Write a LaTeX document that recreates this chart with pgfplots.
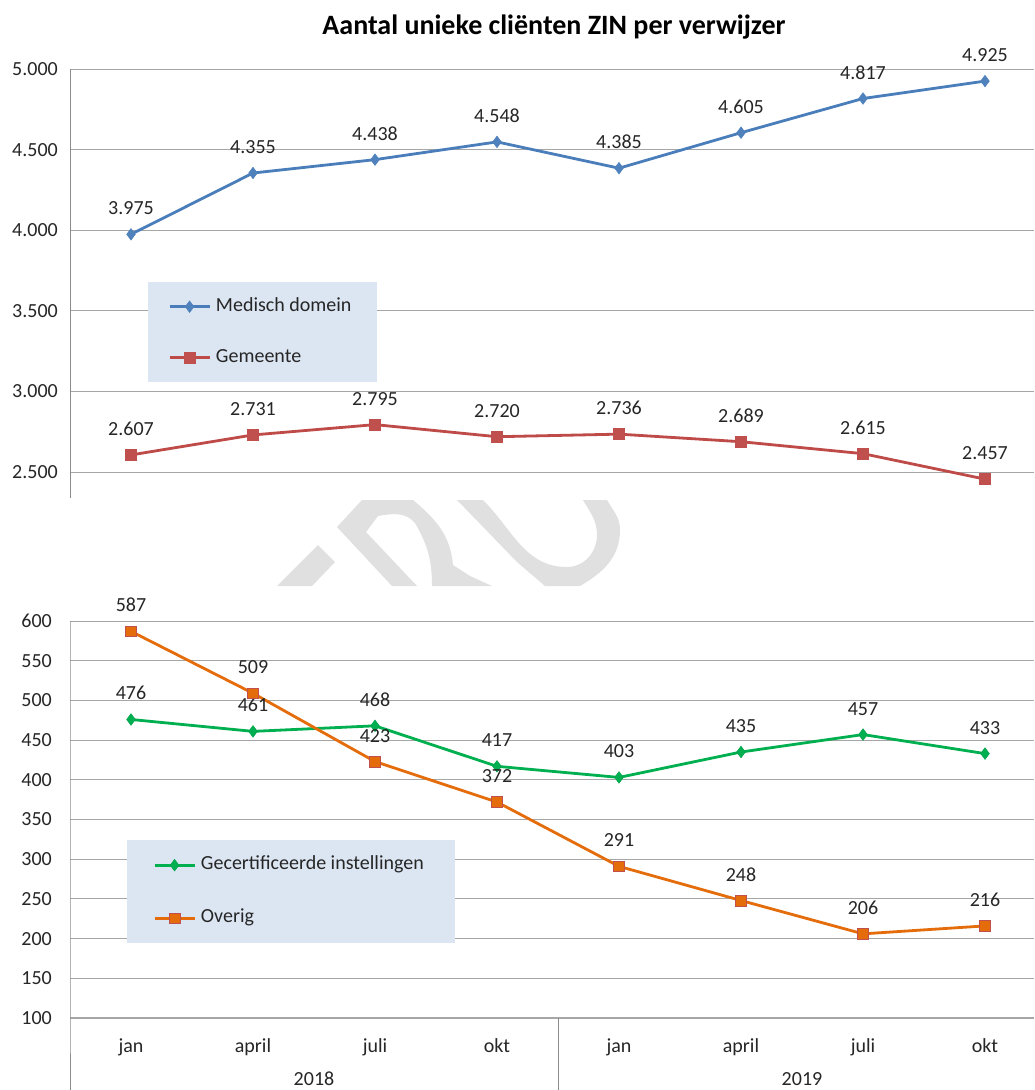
\documentclass[border=0pt]{standalone}
\usepackage{fontspec}
\setmainfont{Carlito}
\usepackage{pgfplots}
\usepackage{pgfplotstable}
\pgfplotsset{compat=1.18}

\definecolor{cblue}{HTML}{4A7EBB}
\definecolor{cbluem}{HTML}{4F81BD}
\definecolor{cred}{HTML}{BE4B48}
\definecolor{credm}{HTML}{C0504D}
\definecolor{cgreen}{HTML}{00B050}
\definecolor{cgreenm}{HTML}{00A04A}
\definecolor{corange}{HTML}{E46C0A}
\definecolor{corangem}{HTML}{C0504D}
\definecolor{gridc}{HTML}{A6A6A6}
\definecolor{axc}{HTML}{8C8C8C}
\definecolor{legfill}{HTML}{DCE6F2}
\definecolor{txt}{HTML}{262626}
\definecolor{wm}{HTML}{E0E0E0}

\pgfplotstableread{
x y lab
0 3975 3.975
1 4355 4.355
2 4438 4.438
3 4548 4.548
4 4385 4.385
5 4605 4.605
6 4817 4.817
7 4925 4.925
}\medisch
\pgfplotstableread{
x y lab
0 2607 2.607
1 2731 2.731
2 2795 2.795
3 2720 2.720
4 2736 2.736
5 2689 2.689
6 2615 2.615
7 2457 2.457
}\gemeente
\pgfplotstableread{
x y lab
0 476 476
1 461 461
2 468 468
3 417 417
4 403 403
5 435 435
6 457 457
7 433 433
}\gecert
\pgfplotstableread{
x y lab
0 587 587
1 509 509
2 423 423
3 372 372
4 291 291
5 248 248
6 206 206
7 216 216
}\overig

\newcommand{\fs}{\fontsize{20}{24}\selectfont}

\pgfplotsset{
  mystyle/.style={
    scale only axis, width=964pt, xmin=-0.5, xmax=7.4016,
    axis line style={draw=none},
    tick style={draw=none},
    ymajorgrids, grid style={gridc, line width=0.9pt},
    yticklabel style={anchor=east, inner sep=0pt, font=\fs, text=txt},
    xticklabel style={anchor=base, inner sep=0pt, yshift=-34pt, font=\fs, text=txt},
    /pgf/number format/assume math mode=true,
    clip=false,
    nodes near coords, point meta=explicit symbolic,
    every node near coord/.append style={anchor=base, yshift=19.5pt, font=\fs, text=txt, inner sep=0pt},
    legend cell align=left,
    legend image code/.code={\draw[mark repeat=2,mark phase=2] plot coordinates {(0pt,0pt) (20pt,0pt) (40pt,0pt)};},
  }
}

\begin{document}
\begin{tikzpicture}
\useasboundingbox (0,0) rectangle (1034pt,-1090pt);
\fill[white] (0,0) rectangle (1034pt,-1090pt);

% watermark fragment
\begin{scope}[x=1pt,y=-1pt]
\clip (0,500) rectangle (1034,586);
\fill[wm] (277,586) -- (318,545) -- (335,562) -- (312,586) -- cycle;
\fill[wm] (337,527) -- (362,500) -- (413,500) to[out=-40,in=95] (453,565) -- (470,576) -- (492,586) -- (432,586) to[out=90,in=-60] (415,523) to[out=130,in=10] (378,516) -- (366,532) -- (417,586) -- (392,586) -- cycle;
\fill[wm] (457,500) -- (483,500) to[out=-45,in=180] (567,567) to[out=0,in=-90] (597,535) to[out=90,in=-60] (583,500) -- (607,500) to[out=-60,in=90] (620,530) to[out=-90,in=30] (580,586) -- (545,586) -- (517,562) -- cycle;
\end{scope}

\node[font=\bfseries\fontsize{28}{32}\selectfont, text=black] at (554pt,-27pt) {Aantal unieke cliënten ZIN per verwijzer};

% top axis
\begin{axis}[mystyle,
  at={(70pt,-498pt)}, anchor=south west, height=429pt,
  ymin=2340, ymax=5000,
  ytick={2500,3000,3500,4000,4500,5000},
  yticklabels={2.500,3.000,3.500,4.000,4.500,5.000},
  xtick=\empty,
  yticklabel style={xshift=-12pt},
  legend style={at={(0.0809,0.5035)}, anchor=north west, fill=legfill, draw=none,
    inner xsep=20pt, inner ysep=15pt, row sep=32pt, font=\fs, text=txt,
    nodes={inner xsep=5pt, inner ysep=0pt, text height=14pt, text depth=5pt}},
]
\draw[axc, line width=0.9pt] (rel axis cs:0,0) -- (rel axis cs:0,1);
\addplot[cblue, line width=2.8pt, mark=diamond*, mark size=5.8pt,
  mark options={fill=cbluem, draw=cbluem, line width=0.5pt}] table[x=x,y=y,meta=lab] {\medisch};
\addlegendentry{Medisch domein}
\addplot[cred, line width=2.8pt, mark=square*, mark size=5.4pt,
  mark options={fill=credm, draw=credm, line width=0.5pt}] table[x=x,y=y,meta=lab] {\gemeente};
\addlegendentry{Gemeente}
\end{axis}

% bottom axis
\begin{axis}[mystyle,
  at={(70pt,-1018pt)}, anchor=south west, height=397pt,
  ymin=100, ymax=600,
  ytick={100,150,...,600},
  yticklabels={100,150,200,250,300,350,400,450,500,550,600},
  yticklabel style={xshift=-18pt},
  xtick={0,...,7},
  xticklabels={jan,april,juli,okt,jan,april,juli,okt},
  legend style={at={(0.0591,0.4484)}, anchor=north west, fill=legfill, draw=none,
    inner xsep=26pt, inner ysep=15.5pt, row sep=34pt, font=\fs, text=txt,
    nodes={inner xsep=5pt, inner ysep=0pt, text height=14pt, text depth=5pt}},
]
\draw[gridc, line width=1.4pt] (rel axis cs:0,0) -- (rel axis cs:1,0);
\draw[axc, line width=0.9pt] (rel axis cs:0,1) -- (rel axis cs:0,0) -- ++(0pt,-72pt);
\draw[axc, line width=0.9pt] (axis cs:3.5,100) -- ++(0pt,-72pt);
\node[anchor=base, inner sep=0pt, font=\fs, text=txt, yshift=-67pt] at (axis cs:1.5,100) {2018};
\node[anchor=base, inner sep=0pt, font=\fs, text=txt, yshift=-67pt] at (axis cs:5.5,100) {2019};
\addplot[cgreen, line width=2.8pt, mark=diamond*, mark size=5.8pt,
  mark options={fill=cgreen, draw=cgreenm, line width=0.5pt}] table[x=x,y=y,meta=lab] {\gecert};
\addlegendentry{Gecertificeerde instellingen}
\addplot[corange, line width=2.8pt, mark=square*, mark size=5.4pt,
  mark options={fill=corange, draw=corangem, line width=0.6pt}] table[x=x,y=y,meta=lab] {\overig};
\addlegendentry{Overig}
\end{axis}
\end{tikzpicture}
\end{document}
